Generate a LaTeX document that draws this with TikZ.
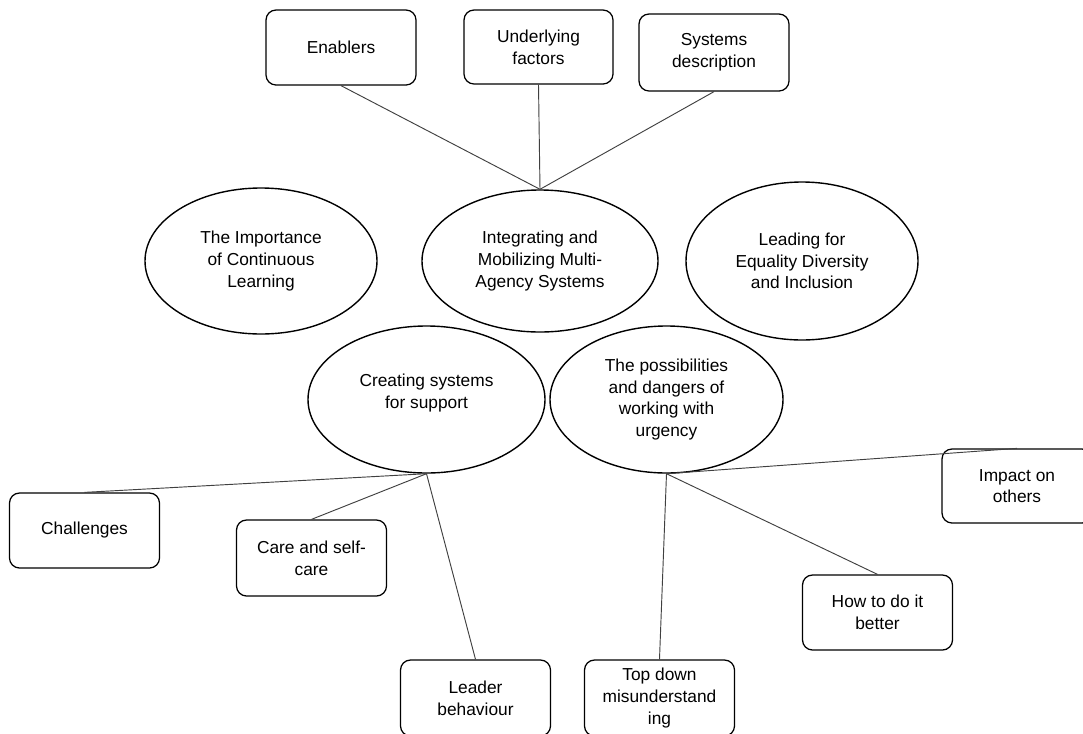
\documentclass[tikz,border=0pt]{standalone}
\usepackage{fontspec}
\setmainfont{Liberation Sans}
\usetikzlibrary{shapes.geometric}
\begin{document}
\begin{tikzpicture}[x=0.75pt,y=-0.75pt,
  txt/.style={align=center, inner sep=0pt, font=\fontsize{13}{16.3}\selectfont},
  box/.style={txt, draw=black, line width=0.95pt, rounded corners=7.5pt, minimum width=112.5pt, minimum height=56.25pt},
  oval/.style={txt, draw=black, line width=1.05pt, ellipse},
  link/.style={draw=black!75, line width=0.7pt}]
\useasboundingbox (0,0) rectangle (1083,733);
\fill[white] (0,0) rectangle (1083,733);

% top boxes
\node[box] (enablers) at (341,47.5) {Enablers};
\node[box, minimum width=111.75pt, minimum height=55.5pt] (underlying) at (538.5,47) {Underlying\\factors};
\node[box, minimum height=57.75pt] (sysdesc) at (714,52.5) {Systems\\description};

% ellipses
\node[oval, minimum width=174pt, minimum height=109.5pt] (importance) at (261,261) {The Importance\\of Continuous\\Learning};
\node[oval, minimum width=177pt, minimum height=106.5pt] (integrating) at (540,261) {Integrating and\\Mobilizing Multi-\\Agency Systems};
\node[oval, minimum width=174pt, minimum height=118.5pt] (leading) at (802,261) {Leading for\\Equality Diversity\\and Inclusion};
\node[oval, minimum width=177.75pt, minimum height=110.25pt] (creating) at (426.5,399.5) {Creating systems\\for support\\[-4pt]};
\node[oval, minimum width=174.75pt, minimum height=110.25pt] (possib) at (666.5,399.5) {The possibilities\\and dangers of\\working with\\urgency};

% bottom boxes
\node[box] (challenges) at (84.5,530.5) {Challenges};
\node[box, minimum height=57pt] (care) at (311.5,558) {Care and self-\\care};
\node[box, minimum height=57pt] (leader) at (475.5,698) {Leader\\behaviour};
\node[box, minimum height=57pt] (topdown) at (659.5,698) {Top down\\misunderstand\\ing};
\node[box] (howto) at (877.5,612.5) {How to do it\\better};
\node[box, minimum height=55.5pt] (impact) at (1017,486) {Impact on\\others};

% connectors
\draw[link] (enablers.south) -- (integrating.north);
\draw[link] (underlying.south) -- (integrating.north);
\draw[link] (sysdesc.south) -- (integrating.north);
\draw[link] (creating.south) -- (challenges.north);
\draw[link] (creating.south) -- (care.north);
\draw[link] (creating.south) -- (leader.north);
\draw[link] (possib.south) -- (topdown.north);
\draw[link] (possib.south) -- (howto.north);
\draw[link] (possib.south) -- (impact.north);
\end{tikzpicture}
\end{document}
